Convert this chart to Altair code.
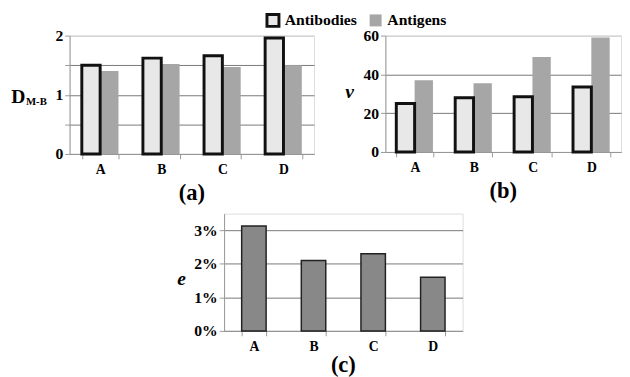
import altair as alt
import pandas as pd

categories = ["A", "B", "C", "D"]
series = ["Antibodies", "Antigens"]
dmb_antibodies = [1.50, 1.62, 1.66, 1.96]
dmb_antigens = [1.40, 1.52, 1.47, 1.50]
v_antibodies = [25, 28, 28.5, 33.5]
v_antigens = [37, 35.5, 49, 59]
e_values = [0.0313, 0.0210, 0.0230, 0.0160]

SERIF = "Liberation Serif, Times New Roman, serif"
GRID = "#777777"
LIGHT = "#c8c8c8"


def pair_df(ab, ag):
    rows = []
    for c, v in zip(categories, ag):
        rows.append({"cat": c, "series": "Antigens", "val": v})
    for c, v in zip(categories, ab):
        rows.append({"cat": c, "series": "Antibodies", "val": v})
    return pd.DataFrame(rows)


def legend():
    return alt.Legend(title=None, orient="none", legendX=200, legendY=-24,
                      direction="horizontal", symbolType="square", symbolSize=150,
                      symbolStrokeWidth=3, labelFont=SERIF, labelFontSize=16,
                      labelFontWeight="bold", labelColor="black", columnPadding=6,
                      labelOffset=4, symbolOpacity=1)


color = alt.Color("series:N", scale=alt.Scale(domain=series, range=["#e8e8e8", "#a6a6a6"]),
                  legend=legend())
stroke = alt.Stroke("series:N", scale=alt.Scale(domain=series, range=["#111111", "transparent"]),
                    legend=legend())


def xaxis():
    return alt.Axis(title=None, labelFont=SERIF, labelFontSize=14, labelFontWeight="bold",
                    labelColor="black", labelAngle=0, domainColor="#999999", tickColor="#999999",
                    tickSize=5, tickBand="extent", labelPadding=4, grid=False)


def yaxis(values, top, fmt, title, tx, ty, labelexpr=None, italic=True):
    kw = dict(values=values, format=fmt, labelFont=SERIF, labelFontSize=16, labelFontWeight="bold",
              labelColor="black", domainColor="#999999", tickColor="#999999", tickSize=5,
              labelPadding=2,
              gridColor={"condition": {"test": f"datum.value >= {top}", "value": LIGHT}, "value": GRID},
              gridWidth=1,
              title=title, titleFont=SERIF, titleFontSize=20, titleFontWeight="bold",
              titleAngle=0, titleX=tx, titleY=ty,
              titleAlign="center", titleBaseline="middle", titleColor="black")
    if italic:
        kw["titleFontStyle"] = "italic"
    if labelexpr:
        kw["labelExpr"] = labelexpr
    return alt.Axis(**kw)


def titled(text, offset=6):
    return alt.TitleParams(text, orient="bottom", font=SERIF, fontSize=23,
                           fontWeight="bold", color="black", offset=offset)


def pair_chart(df, ydomain, axis, w, h, pin):
    return alt.Chart(df).mark_bar(strokeWidth=3, opacity=1).encode(
        x=alt.X("cat:N", sort=categories, axis=xaxis(),
                scale=alt.Scale(paddingInner=pin, paddingOuter=pin / 2)),
        xOffset=alt.XOffset("series:N", sort=series, scale=alt.Scale(paddingInner=0, paddingOuter=0)),
        y=alt.Y("val:Q", scale=alt.Scale(domain=ydomain), axis=axis),
        color=color,
        stroke=stroke,
    ).properties(width=w, height=h)


dfa = pair_df(dmb_antibodies, dmb_antigens)
dfb = pair_df(v_antibodies, v_antigens)

axis_a = yaxis([0, 0.5, 1, 1.5, 2], 2, ".0f", "D", -53, 62,
               labelexpr="datum.value % 1 == 0 ? datum.label : ''", italic=False)
bars_a = pair_chart(dfa, [0, 2], axis_a, 250, 121, 0.4)
sub = alt.Chart(alt.Data(values=[{"t": "M-B"}])).mark_text(
    font=SERIF, fontSize=11, fontWeight="bold", color="black", align="center", baseline="middle"
).encode(x=alt.value(-34), y=alt.value(68), text="t:N")
chart_a = alt.layer(bars_a, sub).properties(title=titled("(a)"))

axis_b = yaxis([0, 20, 40, 60], 60, "d", "v", -37, 57)
chart_b = pair_chart(dfb, [0, 60], axis_b, 241, 119, 0.37).properties(title=titled("(b)"))

dfc = pd.DataFrame({"cat": categories, "val": e_values})
chart_c = alt.Chart(dfc).mark_bar(color="#888888", stroke="#222222", strokeWidth=1.5).encode(
    x=alt.X("cat:N", sort=categories, axis=xaxis(),
            scale=alt.Scale(paddingInner=0.59, paddingOuter=0.295)),
    y=alt.Y("val:Q", scale=alt.Scale(domain=[0, 0.035]),
            axis=yaxis([0, 0.01, 0.02, 0.03], 0.035, ".0%", "e", -44, 67)),
).properties(width=244, height=120, title=titled("(c)", offset=1))


def spacer(w, h):
    return alt.Chart(alt.Data(values=[{"a": 1}])).mark_point(opacity=0, size=1).encode(
        x=alt.value(5), y=alt.value(5)).properties(width=w, height=h,
                                                    view=alt.ViewBackground(stroke="transparent"))


row1 = alt.hconcat(chart_a, chart_b, spacing=30)
row2 = alt.hconcat(spacer(94, 10), chart_c, spacing=14)

chart = alt.vconcat(row1, row2, spacing=7).resolve_scale(
    color="shared", stroke="shared"
).properties(padding={"left": 2, "top": 0, "right": 0, "bottom": 0}
             ).configure_view(stroke=LIGHT, strokeWidth=1).configure(background="white")

chart.save("out.html", embed_options={"renderer": "svg", "actions": False})
